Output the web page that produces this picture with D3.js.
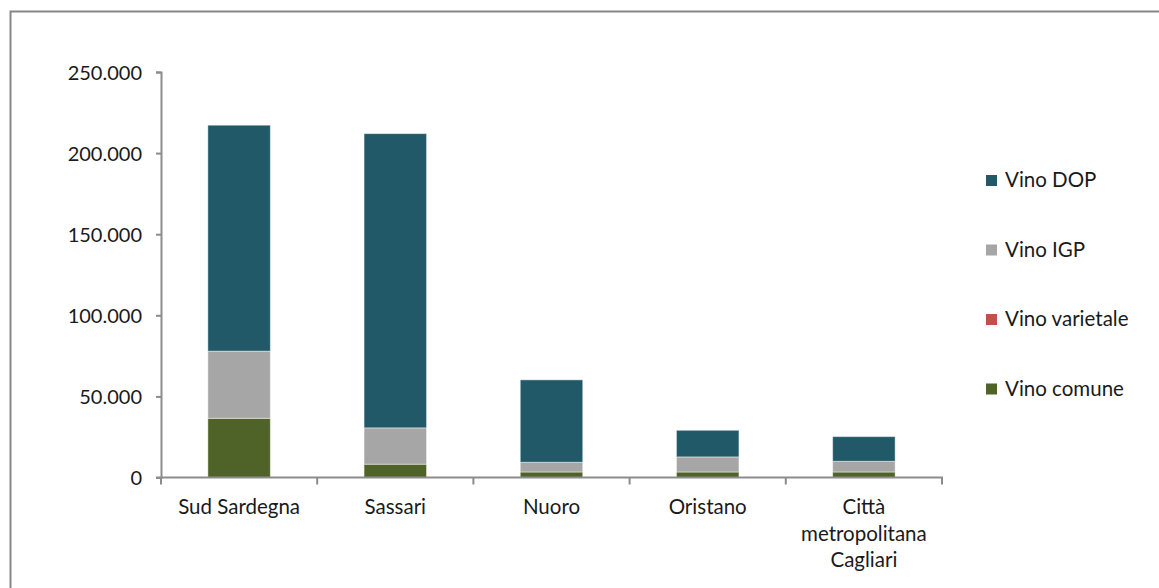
<!DOCTYPE html>
<html>
<head>
<meta charset="utf-8">
<script src="https://cdn.jsdelivr.net/npm/d3@7"></script>
<style>
	body { margin: 0; background: #fff; }
	svg text { font-family: Lato, "Open Sans", sans-serif; fill: #1a1a1a; }
</style>
</head>
<body>
<svg id="chart"></svg>
<script>
// categories (label lines) and series values
let provinces = ['Sud Sardegna', 'Sassari', 'Nuoro', 'Oristano', 'Città metropolitana Cagliari'];
let provinceLines = [['Sud Sardegna'], ['Sassari'], ['Nuoro'], ['Oristano'], ['Città', 'metropolitana', 'Cagliari']];
let series = ['Vino comune', 'Vino varietale', 'Vino IGP', 'Vino DOP'];
let vinoComune = [36500, 8200, 3400, 3400, 3400];
let vinoVarietale = [0, 0, 0, 0, 0];
let vinoIGP = [41400, 22400, 6000, 9300, 6600];
let vinoDOP = [139300, 181400, 50800, 16400, 15200];
let yTicks = [0, 50000, 100000, 150000, 200000, 250000];
let colors = ['#4f6228', '#c0504d', '#a6a6a6', '#215968'];

let w = 1159, h = 588;
let leftMargin = 161, rightEdge = 942, topY = 72, baseY = 477.5;

let chart = d3.select('#chart').attr('width', w).attr('height', h);

// outer frame (right/bottom edges fall off the picture)
chart.append('rect')
	.attr('x', 10.5).attr('y', 11.5)
	.attr('width', w + 20).attr('height', h + 20)
	.attr('fill', 'none')
	.attr('stroke', '#878787')
	.attr('stroke-width', 2);

// build table for stack
let table = provinces.map((p, i) => ({
	province: p,
	'Vino comune': vinoComune[i],
	'Vino varietale': vinoVarietale[i],
	'Vino IGP': vinoIGP[i],
	'Vino DOP': vinoDOP[i]
}));
let stacked = d3.stack().keys(series)(table);

let xScale = d3.scaleBand()
	.domain(provinces)
	.range([leftMargin, rightEdge])
	.paddingInner(0.6)
	.paddingOuter(0.3);

let yScale = d3.scaleLinear()
	.domain([0, 250000])
	.range([baseY, topY]);

let colorScale = d3.scaleOrdinal().domain(series).range(colors);

// bars
chart.append('g').selectAll('g')
	.data(stacked)
	.enter()
	.append('g')
	.attr('fill', (d) => colorScale(d.key))
	.selectAll('rect')
	.data((d) => d)
	.enter()
	.append('rect')
	.attr('x', (d) => xScale(d.data.province))
	.attr('y', (d) => yScale(d[1]))
	.attr('width', xScale.bandwidth())
	.attr('height', (d) => yScale(d[0]) - yScale(d[1]))
	.attr('stroke', 'rgba(255,255,255,0.45)')
	.attr('stroke-width', 1);

// y axis
let yAxis = d3.axisLeft(yScale)
	.tickValues(yTicks)
	.tickSize(5)
	.tickPadding(14)
	.tickFormat((d) => d3.format(',')(d).replace(/,/g, '.'));

let yAxisGroup = chart.append('g')
	.attr('class', 'axis-left')
	.attr('transform', `translate(${leftMargin},0)`)
	.call(yAxis);
yAxisGroup.select('.domain').attr('stroke', '#8c8c8c').attr('stroke-width', 2);
yAxisGroup.selectAll('.tick line').attr('stroke', '#8c8c8c').attr('stroke-width', 2);
yAxisGroup.selectAll('.tick text').style('font-size', '20px').attr('dy', '0.35em');

// x axis: ticks at band boundaries
let bandEdges = provinces.map((p) => xScale(p) - xScale.step() * xScale.paddingInner() / 2);
bandEdges.push(rightEdge);

let xAxisGroup = chart.append('g').attr('class', 'axis-bottom');
xAxisGroup.append('line')
	.attr('x1', leftMargin - 5).attr('x2', rightEdge + 1)
	.attr('y1', baseY).attr('y2', baseY)
	.attr('stroke', '#8c8c8c').attr('stroke-width', 2);
xAxisGroup.selectAll('.xtick')
	.data(bandEdges)
	.enter()
	.append('line')
	.attr('class', 'xtick')
	.attr('x1', (d) => d).attr('x2', (d) => d)
	.attr('y1', baseY).attr('y2', baseY + 7)
	.attr('stroke', '#8c8c8c').attr('stroke-width', 2);

xAxisGroup.selectAll('.xlabel')
	.data(provinces)
	.enter()
	.append('text')
	.attr('class', 'xlabel')
	.attr('text-anchor', 'middle')
	.style('font-size', '20.5px')
	.attr('transform', (d) => `translate(${xScale(d) + xScale.bandwidth() / 2},${baseY + 36.5})`)
	.each(function (d, i) {
		d3.select(this).selectAll('tspan')
			.data(provinceLines[i])
			.enter()
			.append('tspan')
			.attr('x', 0)
			.attr('y', (l, j) => j * 26.5)
			.text((l) => l);
	});

// legend, DOP on top
let legendItems = series.slice().reverse();
let legend = chart.append('g').attr('class', 'legend');
let legendRow = legend.selectAll('g')
	.data(legendItems)
	.enter()
	.append('g')
	.attr('transform', (d, i) => `translate(986,${180 + i * 69.5})`);
legendRow.append('rect')
	.attr('x', 0).attr('y', -5)
	.attr('width', 11).attr('height', 11)
	.attr('fill', (d) => colorScale(d));
legendRow.append('text')
	.attr('x', 19).attr('y', 0)
	.attr('dy', '0.35em')
	.style('font-size', '20.5px')
	.text((d) => d);
</script>
</body>
</html>
